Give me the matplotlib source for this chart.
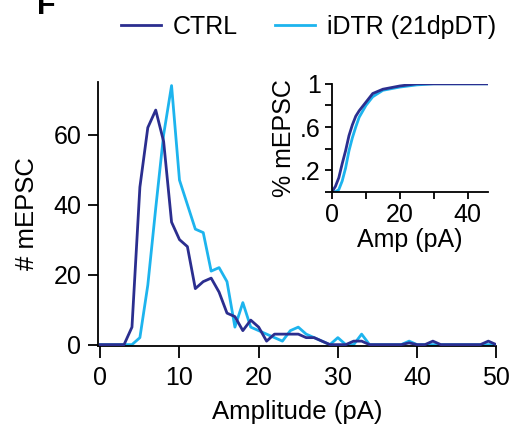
import matplotlib
matplotlib.use('Agg')
import matplotlib.pyplot as plt

plt.rcParams['font.family'] = ['Liberation Sans', 'DejaVu Sans']

# Histogram of mEPSC amplitudes (1 pA bins)
amp = list(range(0, 51))
ctrl = [0, 0, 0, 0, 5, 45, 62, 67, 58, 35, 30, 28, 16, 18, 19, 15, 9, 8, 4, 7,
        5, 1, 3, 3, 3, 3, 2, 2, 1, 0, 0, 0, 1, 1, 0, 0, 0, 0, 0, 0.5,
        0, 0, 1, 0, 0, 0, 0, 0, 0, 1, 0]
idtr = [0, 0, 0, 0, 0, 2, 17, 39, 60, 74, 47, 40, 33, 32, 21, 22, 18, 5, 12, 5,
        4, 3, 2, 1, 4, 5, 3, 2, 1, 0, 2, 0, 0, 3, 0, 0, 0, 0, 0, 1,
        0, 0, 0, 0, 0, 0, 0, 0, 0, 0, 0]

# Cumulative distributions (inset)
cum_amp = [0, 1, 2, 3, 4, 5, 6, 7, 8, 10, 12, 15, 20, 25, 30, 46]
cum_ctrl = [0, 0.05, 0.13, 0.26, 0.38, 0.52, 0.62, 0.70, 0.75, 0.83, 0.91, 0.95, 0.98, 1.0, 1.0, 1.0]
cum_idtr = [0, 0.0, 0.02, 0.10, 0.22, 0.38, 0.50, 0.60, 0.69, 0.80, 0.88, 0.94, 0.97, 0.99, 1.0, 1.0]

c_ctrl = '#2b2e8f'
c_idtr = '#1db4ee'

fig = plt.figure(figsize=(5.1, 4.32), dpi=100)

ax = fig.add_axes([0.192, 0.199, 0.781, 0.611])
ax.plot(amp, ctrl, color=c_ctrl, lw=2, label='CTRL', zorder=3)
ax.plot(amp, idtr, color=c_idtr, lw=2, label='iDTR (21dpDT)', zorder=2)
ax.set_xlim(-0.3, 50)
ax.set_ylim(-0.4, 75)
ax.set_xticks([0, 10, 20, 30, 40, 50])
ax.set_yticks([0, 20, 40, 60])
for s in ['top', 'right']:
    ax.spines[s].set_visible(False)
ax.spines['left'].set_linewidth(1.3)
ax.spines['bottom'].set_linewidth(1.3)
ax.tick_params(axis='x', labelsize=18, length=8.5, width=1.3, pad=6)
ax.tick_params(axis='y', labelsize=18, length=7, width=1.3, pad=5)
ax.set_xlabel('Amplitude (pA)', fontsize=18.5, labelpad=7)
ax.set_ylabel('# mEPSC', fontsize=18.5, labelpad=10)

fig.legend(loc='center', bbox_to_anchor=(0.605, 0.937), ncol=2, frameon=False,
           fontsize=18, handlelength=1.6, handletextpad=0.45, columnspacing=1.5)

# Inset: cumulative
ins = fig.add_axes([0.651, 0.556, 0.306, 0.25])
ins.plot(cum_amp, cum_idtr, color=c_idtr, lw=2)
ins.plot(cum_amp, cum_ctrl, color=c_ctrl, lw=2)
ins.set_xlim(0, 46)
ins.set_ylim(0, 1)
ins.set_xticks([0, 10, 20, 30, 40])
ins.set_xticklabels(['0', '', '20', '', '40'])
ins.set_yticks([0, 0.2, 0.4, 0.6, 0.8, 1.0])
ins.set_yticklabels(['', '.2', '', '.6', '', '1'])
for s in ['top', 'right']:
    ins.spines[s].set_visible(False)
ins.spines['left'].set_linewidth(1.3)
ins.spines['bottom'].set_linewidth(1.3)
ins.tick_params(labelsize=18, length=5, width=1.3, pad=3)
ins.set_xlabel('Amp (pA)', fontsize=18, labelpad=1)
ins.set_ylabel('% mEPSC', fontsize=18, labelpad=3)

fig.text(0.073, 0.968, 'F', fontsize=22, fontweight='bold', ha='left', va='baseline')

fig.savefig('out.png', dpi=100)
